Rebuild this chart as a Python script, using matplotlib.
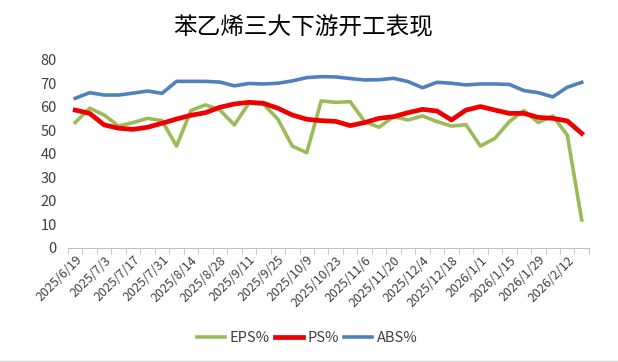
import matplotlib
matplotlib.use("Agg")
import matplotlib.pyplot as plt
import numpy as np
from datetime import date, timedelta

plt.rcParams['font.family'] = ['Noto Sans CJK SC', 'DejaVu Sans']

# weekly dates 2025/6/19 .. 2026/2/19
start = date(2025, 6, 19)
dates = [start + timedelta(days=7 * i) for i in range(36)]
labels = [f"{d.year}/{d.month}/{d.day}" for d in dates]

eps = [53.3, 59.4, 56.5, 51.8, 53.3, 55.1, 54.1, 43.3, 58.4, 60.8,
       58.6, 52.3, 61.5, 61.2, 54.8, 43.3, 40.5, 62.5, 61.9, 62.2,
       53.7, 51.3, 55.8, 54.4, 56.1, 53.7, 51.8, 52.4, 43.3, 46.6,
       53.7, 58.4, 53.3, 56.1, 48.0, 11.9]
ps = [58.6, 57.2, 52.3, 50.9, 50.4, 51.3, 53.0, 54.8, 56.4, 57.5,
      59.8, 61.2, 61.9, 61.5, 59.4, 56.5, 54.7, 54.1, 53.8, 52.0,
      53.3, 55.1, 55.8, 57.5, 58.9, 58.2, 54.4, 58.6, 60.1, 58.6,
      57.2, 57.2, 55.5, 55.1, 54.0, 48.7]
abs_ = [63.6, 66.0, 65.0, 65.0, 65.8, 66.7, 65.7, 70.8, 70.8, 70.8,
        70.5, 68.9, 69.9, 69.7, 70.0, 71.0, 72.4, 72.8, 72.7, 72.0,
        71.4, 71.5, 72.1, 70.7, 68.1, 70.4, 70.0, 69.3, 69.7, 69.7,
        69.5, 66.9, 66.0, 64.2, 68.3, 70.4]

fig = plt.figure(figsize=(6.18, 3.62), dpi=100)
ax = fig.add_axes([0.110, 0.315, 0.843, 0.520])

x = np.arange(len(labels))
ax.plot(x, eps, color='#9BBB59', lw=2.6, label='EPS%', solid_joinstyle='round')
ax.plot(x, ps, color='#EE0000', lw=3.4, label='PS%', solid_joinstyle='round')
ax.plot(x, abs_, color='#4F81BD', lw=2.6, label='ABS%', solid_joinstyle='round')

ax.set_xlim(-0.5, len(labels) - 0.5)
ax.set_ylim(0, 80)
ax.set_yticks(range(0, 81, 10))

for s in ['top', 'right', 'left']:
    ax.spines[s].set_visible(False)
ax.spines['bottom'].set_color('#BFBFBF')

ax.set_xticks(x[::2])
ax.set_xticklabels(labels[::2], rotation=45, ha='right', va='top',
                   rotation_mode='anchor', fontsize=9, color='#404040')
ax.tick_params(axis='x', length=0, pad=4)
ax.set_xticks(np.arange(-0.5, len(labels), 1), minor=True)
ax.tick_params(axis='x', which='minor', length=4, color='#BFBFBF')
ax.tick_params(axis='y', length=0, labelsize=10.5, labelcolor='#404040', pad=8)

fig.text(0.491, 0.924, '苯乙烯三大下游开工表现', ha='center', va='center',
         fontsize=17, color='#000000')

fig.legend(loc='center', bbox_to_anchor=(0.497, 0.066), ncol=3, frameon=False,
           fontsize=10.5, handlelength=1.9, columnspacing=0.4, handletextpad=0.3,
           labelcolor='#404040')

fig.add_artist(plt.Line2D([0, 1], [0.004, 0.004], color='#D0D0D0', lw=1))

fig.savefig('out.png', dpi=100)
